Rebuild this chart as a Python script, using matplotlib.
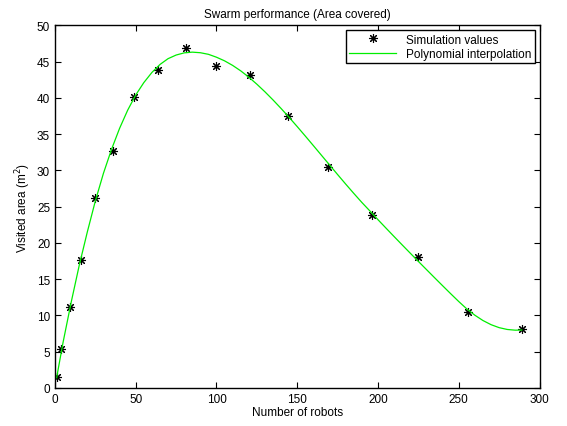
import numpy as np
import matplotlib
matplotlib.use("Agg")
import matplotlib.pyplot as plt

plt.rcParams['font.family'] = ['Liberation Sans', 'DejaVu Sans']

# simulation values (number of robots vs visited area)
robots = [1, 4, 9, 16, 25, 36, 49, 64, 81, 100, 121, 144, 169, 196, 225, 256, 289]
area = [1.5, 5.4, 11.1, 17.6, 26.2, 32.7, 40.1, 43.8, 46.9, 44.4, 43.1, 37.5,
        30.5, 23.8, 18.0, 10.5, 8.1]

# polynomial interpolation curve
curve_x = [1, 5, 10, 15, 20, 25, 30, 35, 40, 45, 50, 55, 60, 65, 70, 75, 80, 85,
           90, 95, 100, 105, 110, 115, 120, 125, 130, 135, 140, 145, 150, 155,
           160, 165, 170, 175, 180, 185, 190, 195, 200, 205, 210, 215, 220, 225,
           230, 235, 240, 245, 250, 255, 260, 265, 270, 275, 280, 285, 289]
curve_y = [1.4, 6.3, 11.8, 16.9, 21.5, 25.8, 29.6, 32.9, 35.8, 38.3, 40.4, 42.1,
           43.5, 44.6, 45.4, 45.9, 46.2, 46.3, 46.22, 46.0, 45.6, 45.1, 44.47,
           43.72, 42.85, 41.88, 40.83, 39.71, 38.53, 37.3, 36.03, 34.73, 33.41,
           32.08, 30.75, 29.42, 28.11, 26.83, 25.58, 24.4, 23.2, 22.03, 20.87,
           19.72, 18.58, 17.45, 16.33, 15.21, 14.1, 13.0, 11.92, 10.9, 10.03,
           9.3, 8.73, 8.32, 8.07, 7.97, 7.99]

fig = plt.figure(figsize=(5.67, 4.27), dpi=100)
ax = fig.add_axes([0.097, 0.089, 0.8545, 0.8494])

ax.plot(robots, area, linestyle='none', marker=(8, 2, 0), markersize=6.5,
        markeredgewidth=0.8, color='black', label='Simulation values')
ax.plot(curve_x, curve_y, color='#00ee00', linewidth=0.9,
        label='Polynomial interpolation')

ax.set_xlim(0, 300)
ax.set_ylim(0, 50)
ax.set_xticks(np.arange(0, 301, 50))
ax.set_yticks(np.arange(0, 51, 5))
ax.tick_params(direction='in', top=True, right=True, length=4, labelsize=8.5)
for s in ax.spines.values():
    s.set_linewidth(1.0)

ax.set_xlabel('Number of robots', fontsize=8.5, labelpad=1)
ax.set_ylabel('Visited area (m$^2$)', fontsize=8.5, labelpad=3)
ax.set_title('Swarm performance (Area covered)', fontsize=8.5, pad=6)

leg = ax.legend(loc='upper right', fontsize=8.5, fancybox=False, framealpha=1,
                edgecolor='black', borderaxespad=0.4, handlelength=4,
                borderpad=0.3, labelspacing=0.2)
leg.get_frame().set_linewidth(1.0)

fig.savefig('out.png', dpi=100)
